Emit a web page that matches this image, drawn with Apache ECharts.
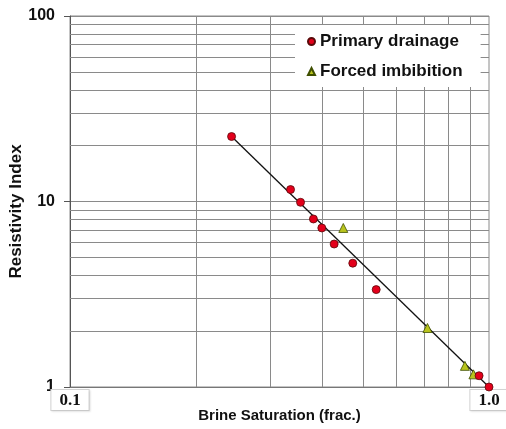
<!DOCTYPE html>
<html>
<head>
<meta charset="utf-8">
<script src="https://cdn.jsdelivr.net/npm/echarts@6/dist/echarts.min.js"></script>
<style>
  html, body { margin: 0; padding: 0; background: #fff; }
  #chart { width: 506px; height: 429px; }
</style>
</head>
<body>
<div id="chart"></div>
<script>
// Tick labels on the two log axes
const xTickLabels = ['0.1', '1.0'];
const yTickLabels = ['1', '10', '100'];

// Intermediate decade gridlines
const xGridValues = [0.2, 0.3, 0.4, 0.5, 0.6, 0.7, 0.8, 0.9];
const yGridValues = [2, 3, 4, 5, 6, 7, 8, 9, 20, 30, 40, 50, 60, 70, 80, 90];

// Primary drainage measurements
const drainageSw = [0.243, 0.336, 0.355, 0.381, 0.399, 0.427, 0.473, 0.538, 0.947, 1.0];
const drainageRI = [22.4, 11.6, 9.9, 8.05, 7.2, 5.9, 4.65, 3.35, 1.15, 1.0];

// Forced imbibition measurements
const imbibitionSw = [0.449, 0.713, 0.876, 0.918];
const imbibitionRI = [7.2, 2.08, 1.30, 1.17];

// Fitted Archie trend line end points
const trendSw = [0.243, 1.0];
const trendRI = [22.4, 1.0];

const pairs = (xs, ys) => xs.map((x, i) => [x, ys[i]]);

const sansBold = { fontFamily: '"Liberation Sans", Arial, sans-serif', fontWeight: 'bold', color: '#111' };
const gridLine = { color: '#8a8a8a', width: 1, type: 'solid' };

const chart = echarts.init(document.getElementById('chart'), null, { renderer: 'canvas' });

chart.setOption({
  animation: false,
  backgroundColor: '#fff',
  grid: {
    left: 70, right: 17, top: 16, bottom: 42,
    outerBoundsMode: 'none',
    containLabel: false,
    show: true, borderColor: '#8a8a8a', borderWidth: 1, backgroundColor: 'transparent'
  },
  legend: {
    orient: 'vertical',
    left: 295, top: 25,
    padding: [8, 18, 7, 12],
    backgroundColor: '#fff',
    z: 20,
    itemWidth: 7, itemHeight: 7, itemGap: 13,
    textStyle: Object.assign({}, sansBold, { fontSize: 17 }),
    data: ['Primary drainage', 'Forced imbibition']
  },
  xAxis: {
    type: 'log', logBase: 10, min: 0.1, max: 1,
    name: 'Brine Saturation (frac.)',
    nameLocation: 'middle', nameGap: 21,
    nameMoveOverlap: false,
    nameTextStyle: Object.assign({}, sansBold, { fontSize: 15 }),
    axisLine: { show: true, lineStyle: { color: '#777', width: 1 } },
    axisTick: { show: false },
    splitLine: { show: false },
    axisLabel: {
      margin: 3,
      formatter: (v, i) => xTickLabels[i],
      fontFamily: '"Liberation Serif", "Times New Roman", serif',
      fontWeight: 'bold', fontSize: 17, color: '#111',
      backgroundColor: '#fff', borderColor: '#d4d4d4', borderWidth: 1,
      padding: [2, 8, 1, 8],
      shadowColor: 'rgba(0,0,0,0.08)', shadowBlur: 2, shadowOffsetX: 1, shadowOffsetY: 1
    }
  },
  yAxis: {
    type: 'log', logBase: 10, min: 1, max: 100,
    name: 'Resistivity Index',
    nameLocation: 'middle', nameGap: 45, nameRotate: 90,
    nameMoveOverlap: false,
    nameTextStyle: Object.assign({}, sansBold, { fontSize: 17, padding: [0, 0, 0, -20] }),
    axisLine: { show: true, lineStyle: { color: '#555', width: 1 } },
    axisTick: { show: true, length: 6, inside: false, lineStyle: { color: '#555' } },
    splitLine: { show: true, lineStyle: gridLine },
    axisLabel: Object.assign({}, sansBold, {
      fontSize: 16, margin: 15,
      formatter: (v, i) => yTickLabels[i]
    })
  },
  series: [
    {
      name: 'gridlines',
      type: 'line',
      data: [],
      silent: true,
      z: 1,
      markLine: {
        silent: true,
        z: 1,
        symbol: 'none',
        label: { show: false },
        lineStyle: gridLine,
        emphasis: { disabled: true },
        data: xGridValues.map(v => ({ xAxis: v }))
          .concat(yGridValues.map(v => ({ yAxis: v })))
      }
    },
    {
      name: 'trend',
      type: 'line',
      data: pairs(trendSw, trendRI),
      symbol: 'none',
      silent: true,
      lineStyle: { color: '#111', width: 1.3 },
      z: 3
    },
    {
      name: 'Primary drainage',
      type: 'scatter',
      data: pairs(drainageSw, drainageRI),
      symbol: 'circle',
      symbolSize: 8,
      clip: false,
      itemStyle: { color: '#e3001b', borderColor: '#5a0a0a', borderWidth: 0.8, opacity: 1 },
      z: 5
    },
    {
      name: 'Forced imbibition',
      type: 'scatter',
      data: pairs(imbibitionSw, imbibitionRI),
      symbol: 'triangle',
      symbolSize: 9,
      clip: false,
      itemStyle: { color: '#b9c41e', borderColor: '#3f4f00', borderWidth: 0.8, opacity: 1 },
      z: 4
    }
  ]
});
</script>
</body>
</html>
